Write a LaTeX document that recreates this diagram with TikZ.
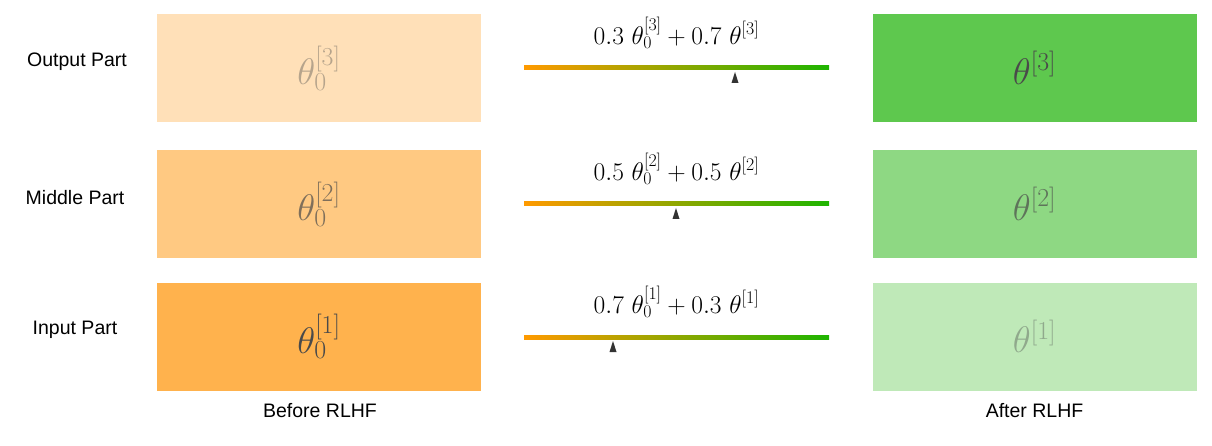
\RequirePackage{fix-cm}
\documentclass[tikz,border=0pt]{standalone}
\usepackage{fontspec}
\setsansfont{Liberation Sans}
\definecolor{orangebase}{HTML}{FFB24D}
\definecolor{greenbase}{HTML}{5EC84E}
\definecolor{boxtext}{HTML}{4A4A4A}
\definecolor{barorange}{HTML}{FF9A00}
\definecolor{bargreen}{HTML}{1EB400}
\definecolor{pointercol}{HTML}{333333}
\newcommand{\lowered}[1]{\raisebox{-3pt}{#1}}
\begin{document}
\begin{tikzpicture}[x=1pt,y=-1pt]
\useasboundingbox (0,0) rectangle (1212,446);
\tikzset{
  partbox/.style={minimum width=324pt, minimum height=108pt, inner sep=0pt, text=boxtext,
    font=\fontsize{37}{42}\selectfont},
  obox/.style={partbox, fill=orangebase},
  gbox/.style={partbox, fill=greenbase},
  rowlabel/.style={font=\sffamily\fontsize{19.5}{22}\selectfont, text=black, inner sep=0pt},
  formula/.style={font=\fontsize{25.5}{30}\selectfont, text=black, inner sep=0pt},
  bar/.style={left color=barorange, right color=bargreen},
  pointer/.style={fill=pointercol}
}
% row labels
\node[rowlabel] (lout) at (77,62) {Output Part};
\node[rowlabel] (lmid) at (75,197.5) {Middle Part};
\node[rowlabel] (lin)  at (75,330) {Input Part};
% before boxes
\node[obox, opacity=0.4] (b3) at (319,68) {\lowered{$\theta_0^{[3]}$}};
\node[obox, opacity=0.7] (b2) at (319,204) {\lowered{$\theta_0^{[2]}$}};
\node[obox] (b1) at (319,336.5) {\lowered{$\theta_0^{[1]}$}};
% after boxes
\node[gbox] (a3) at (1034.5,68) {$\theta^{[3]}$};
\node[gbox, opacity=0.7] (a2) at (1034.5,204) {$\theta^{[2]}$};
\node[gbox, opacity=0.4] (a1) at (1034.5,336.5) {$\theta^{[1]}$};
% column labels
\node[rowlabel] (before) at (320,411) {Before RLHF};
\node[rowlabel] (after) at (1034.5,411) {After RLHF};
% formulas
\node[formula] (f3) at (676.5,33) {$0.3\ \theta_0^{[3]} + 0.7\ \theta^{[3]}$};
\node[formula] (f2) at (676.5,169) {$0.5\ \theta_0^{[2]} + 0.5\ \theta^{[2]}$};
\node[formula] (f1) at (676.5,302) {$0.7\ \theta_0^{[1]} + 0.3\ \theta^{[1]}$};
% bars
\shade[bar] (524,66) rectangle (829,70);
\shade[bar] (524,202) rectangle (829,206);
\shade[bar] (524,335) rectangle (829,339);
% pointers
\fill[pointer] (735,72) -- (738.5,83) -- (731.5,83) -- cycle;
\fill[pointer] (676,208) -- (679.5,219) -- (672.5,219) -- cycle;
\fill[pointer] (613,341) -- (616.5,352) -- (609.5,352) -- cycle;
\end{tikzpicture}
\end{document}
